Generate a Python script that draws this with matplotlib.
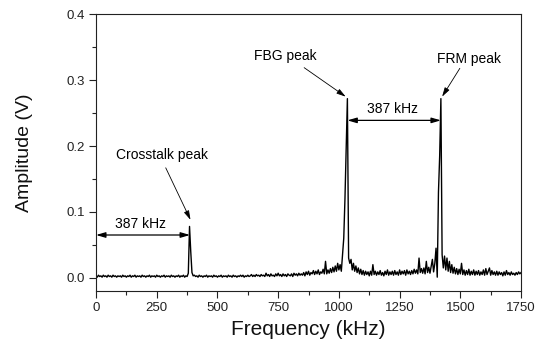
import numpy as np
import matplotlib
matplotlib.use("Agg")
import matplotlib.pyplot as plt
from matplotlib.ticker import MultipleLocator

plt.rcParams['font.family'] = ['Liberation Sans', 'DejaVu Sans']

# Frequency grid (kHz), 5 kHz spacing
freq = np.arange(0, 1755, 5)

# Amplitude (V), one row per 50 kHz
amp = [
    0.003,0.001,0.004,0.002,0.003,0.001,0.004,0.002,0.003,0.001,  # 0
    0.004,0.002,0.003,0.001,0.004,0.002,0.003,0.001,0.003,0.002,  # 50
    0.003,0.001,0.004,0.002,0.003,0.001,0.003,0.002,0.004,0.001,  # 100
    0.003,0.002,0.004,0.001,0.003,0.002,0.003,0.001,0.004,0.002,  # 150
    0.003,0.001,0.003,0.002,0.004,0.001,0.003,0.002,0.003,0.001,  # 200
    0.004,0.002,0.003,0.001,0.003,0.002,0.004,0.001,0.003,0.002,  # 250
    0.003,0.001,0.004,0.002,0.003,0.001,0.003,0.002,0.004,0.001,  # 300
    0.003,0.002,0.004,0.001,0.003,0.002,0.007,0.078,0.040,0.008,  # 350
    0.003,0.004,0.002,0.003,0.001,0.004,0.002,0.003,0.001,0.003,  # 400
    0.002,0.004,0.001,0.003,0.002,0.003,0.001,0.004,0.002,0.003,  # 450
    0.001,0.003,0.002,0.004,0.001,0.003,0.002,0.003,0.001,0.004,  # 500
    0.002,0.003,0.001,0.004,0.002,0.003,0.001,0.003,0.002,0.004,  # 550
    0.002,0.004,0.001,0.003,0.002,0.004,0.002,0.003,0.005,0.002,  # 600
    0.004,0.002,0.005,0.003,0.004,0.002,0.005,0.003,0.004,0.002,  # 650
    0.007,0.003,0.005,0.002,0.006,0.003,0.004,0.002,0.006,0.003,  # 700
    0.007,0.003,0.005,0.002,0.006,0.003,0.005,0.002,0.006,0.004,  # 750
    0.003,0.006,0.002,0.007,0.004,0.006,0.003,0.007,0.004,0.006,  # 800
    0.004,0.008,0.003,0.009,0.005,0.010,0.004,0.008,0.006,0.011,  # 850
    0.005,0.010,0.006,0.012,0.005,0.009,0.007,0.013,0.006,0.025,  # 900
    0.006,0.012,0.007,0.014,0.008,0.016,0.009,0.018,0.010,0.022,  # 950
    0.012,0.020,0.010,0.035,0.060,0.120,0.195,0.272,0.030,0.022,  # 1000
    0.028,0.012,0.022,0.010,0.018,0.008,0.015,0.006,0.013,0.005,  # 1050
    0.011,0.004,0.010,0.005,0.009,0.003,0.010,0.004,0.020,0.005,  # 1100
    0.010,0.004,0.009,0.005,0.011,0.004,0.008,0.003,0.010,0.005,  # 1150
    0.012,0.004,0.009,0.005,0.010,0.004,0.011,0.005,0.009,0.004,  # 1200
    0.012,0.005,0.010,0.006,0.011,0.004,0.012,0.006,0.010,0.005,  # 1250
    0.011,0.006,0.013,0.007,0.012,0.006,0.030,0.008,0.014,0.007,  # 1300
    0.015,0.006,0.025,0.008,0.016,0.007,0.018,0.028,0.009,0.022,  # 1350
    0.045,0.001,0.130,0.185,0.272,0.035,0.015,0.033,0.012,0.030,  # 1400
    0.010,0.025,0.008,0.020,0.007,0.016,0.006,0.014,0.005,0.013,  # 1450
    0.006,0.022,0.005,0.012,0.004,0.011,0.005,0.013,0.004,0.010,  # 1500
    0.005,0.012,0.004,0.010,0.005,0.011,0.004,0.009,0.005,0.012,  # 1550
    0.004,0.014,0.005,0.010,0.015,0.004,0.011,0.005,0.009,0.004,  # 1600
    0.010,0.004,0.009,0.005,0.008,0.003,0.009,0.004,0.011,0.005,  # 1650
    0.008,0.004,0.009,0.005,0.007,0.004,0.008,0.005,0.009,0.006,  # 1700
    0.008,                                                        # 1750
]

x_ticks = [0, 250, 500, 750, 1000, 1250, 1500, 1750]
y_ticks = [0.0, 0.1, 0.2, 0.3, 0.4]

crosstalk_f = 387
fbg_f = 1033
frm_f = 1420

fig = plt.figure(figsize=(5.41, 3.43), dpi=100)
ax = fig.add_axes([0.1775, 0.1516, 0.7856, 0.8067])
ax.plot(freq, amp, color='black', lw=1.0)

ax.set_xlim(0, 1750)
ax.set_ylim(-0.02, 0.4)
ax.set_xticks(x_ticks)
ax.set_yticks(y_ticks)
ax.set_yticklabels([f"{v:.1f}" for v in y_ticks])
ax.xaxis.set_minor_locator(MultipleLocator(125))
ax.yaxis.set_minor_locator(MultipleLocator(0.05))
ax.tick_params(which='both', direction='out', top=False, right=False,
               labelsize=9.5, width=0.8, pad=3, colors='#222222', labelcolor='#222222')
ax.tick_params(which='major', length=5)
ax.tick_params(which='minor', length=3)
for s in ax.spines.values():
    s.set_linewidth(0.8)
    s.set_color('#222222')

ax.set_xlabel('Frequency (kHz)', fontsize=15, color='#111111')
ax.set_ylabel('Amplitude (V)', fontsize=14, color='#111111')
ax.xaxis.set_label_coords(0.5, -0.105)
ax.yaxis.set_label_coords(-0.148, 0.5)

aprops = dict(arrowstyle='-|>,head_length=0.55,head_width=0.16', color='black', lw=0.6,
              shrinkA=0, shrinkB=0)
dprops = dict(arrowstyle='<|-|>,head_length=0.55,head_width=0.16', color='black', lw=0.9,
              shrinkA=0, shrinkB=0)

ax.annotate('', xy=(0, 0.065), xytext=(crosstalk_f, 0.065), arrowprops=dprops)
ax.text(184, 0.082, '387 kHz', ha='center', va='center', fontsize=10)
ax.annotate('', xy=(fbg_f + 2, 0.239), xytext=(frm_f, 0.239), arrowprops=dprops)
ax.text(1219, 0.257, '387 kHz', ha='center', va='center', fontsize=10)

ax.text(272, 0.186, 'Crosstalk peak', ha='center', va='center', fontsize=10)
ax.annotate('', xy=(389, 0.088), xytext=(287, 0.167), arrowprops=aprops)
ax.text(779, 0.336, 'FBG peak', ha='center', va='center', fontsize=10)
ax.annotate('', xy=(1028, 0.275), xytext=(857, 0.319), arrowprops=aprops)
ax.text(1536, 0.332, 'FRM peak', ha='center', va='center', fontsize=10)
ax.annotate('', xy=(1425, 0.275), xytext=(1498, 0.318), arrowprops=aprops)

fig.savefig('out.png', dpi=100)
